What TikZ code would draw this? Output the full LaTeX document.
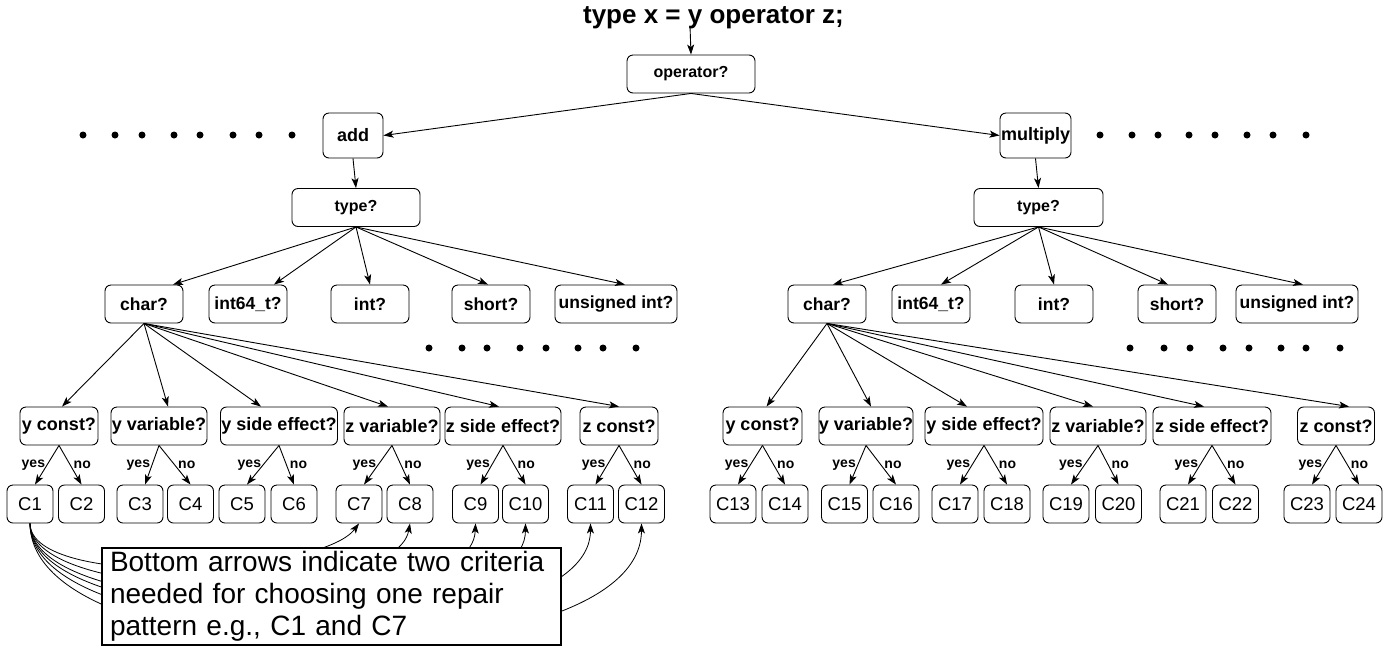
\documentclass[tikz,border=0pt]{standalone}
\usepackage{fontspec}
\setmainfont{Liberation Sans}
\usetikzlibrary{arrows.meta}

\begin{document}
\begin{tikzpicture}[x=1pt,y=-1pt,
        box/.style={draw, rounded corners=6pt, line width=0.9pt, inner sep=0pt, align=center},
        topbox/.style={box, minimum height=38, font=\fontsize{16}{18}\selectfont\bfseries},
        opbox/.style={box, minimum height=45, font=\fontsize{18}{20}\selectfont\bfseries},
        tybox/.style={box, minimum height=38, font=\fontsize{17.5}{20}\selectfont\bfseries},
        qbox/.style={box, minimum height=38, font=\fontsize{18}{20}\selectfont\bfseries},
        cbox/.style={box, minimum width=46, minimum height=38, font=\fontsize{18.5}{20}\selectfont},
        arr/.style={-{Stealth[length=10pt,width=7pt,inset=2.5pt]}, line width=0.9pt},
        yes/.style={pos=0.5, left, inner sep=1.5pt, font=\fontsize{14}{16}\selectfont\bfseries},
        no/.style={pos=0.5, right, inner sep=3pt, font=\fontsize{14}{16}\selectfont\bfseries},
        note/.style={draw, line width=2.5pt, fill=white, inner xsep=8pt, inner ysep=0pt, align=left,
                     minimum width=459, minimum height=97, text width=443,
                     font=\fontsize{28}{32}\selectfont}]
        \useasboundingbox (0,0) rectangle (1388,649);

        % top
        \node[font=\fontsize{26}{28}\selectfont\bfseries] (title) at (713.5,18) {type x = y operator z;};
        \coordinate (start) at (690,26);
        \node[topbox, minimum width=128] (op) at (691,74) {operator?};
        \node[opbox, minimum width=60] (add) at (353,135.5) {add};
        \node[opbox, minimum width=71] (mul) at (1035.5,135.5) {multiply};
        \draw[arr] (start) -- (op.north);
        \draw[arr] (op.south) -- (add.east);
        \draw[arr] (op.south) -- (mul.west);

        % dots
        \fill (83,135) circle (3.5pt) (115,135) circle (3.5pt) (142,135) circle (3.5pt) (174,135) circle (3.5pt)
              (200,135) circle (3.5pt) (233,135) circle (3.5pt) (259,135) circle (3.5pt) (292,135) circle (3.5pt);
        \fill (1100,135) circle (3.5pt) (1132,135) circle (3.5pt) (1158,135) circle (3.5pt) (1189,135) circle (3.5pt)
              (1215,135) circle (3.5pt) (1247,135) circle (3.5pt) (1273,135) circle (3.5pt) (1306,135) circle (3.5pt);
        \fill (429,348) circle (3.5pt) (462,348) circle (3.5pt) (487,348) circle (3.5pt) (520,348) circle (3.5pt)
              (546,348) circle (3.5pt) (578,348) circle (3.5pt) (603,348) circle (3.5pt) (636,348) circle (3.5pt);
        \fill (1130,348) circle (3.5pt) (1164,348) circle (3.5pt) (1190,348) circle (3.5pt) (1223,348) circle (3.5pt)
              (1249,348) circle (3.5pt) (1281,348) circle (3.5pt) (1306,348) circle (3.5pt) (1340,348) circle (3.5pt);

        % left: add
        \node[topbox, minimum width=128] (ltype) at (356,207.5) {type?};
        \draw[arr] (add.south) -- (ltype.north);
        \node[tybox, minimum width=78] (lchar) at (144,304) {char?};
        \node[tybox, minimum width=78] (lint64) at (248,304) {int64\_t?};
        \node[tybox, minimum width=78] (lint) at (370,304) {int?};
        \node[tybox, minimum width=78] (lshort) at (491,304) {short?};
        \node[tybox, minimum width=122] (luint) at (616,304) {unsigned int?};
        \draw[arr] (ltype.south) -- ([xshift=29pt]lchar.north);
        \draw[arr] (ltype.south) -- ([xshift=26pt]lint64.north);
        \draw[arr] (ltype.south) -- (lint.north);
        \draw[arr] (ltype.south) -- ([xshift=-3pt]lshort.north);
        \draw[arr] (ltype.south) -- ([xshift=9pt]luint.north);

        \node[qbox, minimum width=78] (lyc) at (59,426) {y const?};
        \node[qbox, minimum width=96] (lyv) at (159,426) {y variable?};
        \node[qbox, minimum width=117] (lys) at (279,426) {y side effect?};
        \node[qbox, minimum width=96] (lzv) at (392,426) {z variable?};
        \node[qbox, minimum width=116] (lzs) at (503,426) {z side effect?};
        \node[qbox, minimum width=78] (lzc) at (619,426) {z const?};
        \draw[arr] (lchar.south) -- ([xshift=3pt]lyc.north);
        \draw[arr] (lchar.south) -- ([xshift=9pt]lyv.north);
        \draw[arr] (lchar.south) -- ([xshift=-18pt]lys.north);
        \draw[arr] (lchar.south) -- ([xshift=-4pt]lzv.north);
        \draw[arr] (lchar.south) -- ([xshift=-4pt]lzs.north);
        \draw[arr] (lchar.south) -- (lzc.north);

        \node[cbox] (c1) at (30,504) {C1};
        \node[cbox] (c2) at (81.5,504) {C2};
        \node[cbox] (c3) at (140,504) {C3};
        \node[cbox] (c4) at (190.5,504) {C4};
        \node[cbox] (c5) at (242,504) {C5};
        \node[cbox] (c6) at (294,504) {C6};
        \node[cbox] (c7) at (359,504) {C7};
        \node[cbox] (c8) at (410,504) {C8};
        \node[cbox] (c9) at (475.5,504) {C9};
        \node[cbox] (c10) at (525.5,504) {C10};
        \node[cbox] (c11) at (590.5,504) {C11};
        \node[cbox] (c12) at (641.5,504) {C12};
        \draw[arr] (lyc.south) -- node[yes] {yes} ([xshift=5pt]c1.north);
        \draw[arr] (lyc.south) -- node[no] {no} (c2.north);
        \draw[arr] (lyv.south) -- node[yes] {yes} ([xshift=5pt]c3.north);
        \draw[arr] (lyv.south) -- node[no] {no} (c4.north);
        \draw[arr] (lys.south) -- node[yes] {yes} ([xshift=5pt]c5.north);
        \draw[arr] (lys.south) -- node[no] {no} (c6.north);
        \draw[arr] (lzv.south) -- node[yes] {yes} ([xshift=5pt]c7.north);
        \draw[arr] (lzv.south) -- node[no] {no} (c8.north);
        \draw[arr] (lzs.south) -- node[yes] {yes} ([xshift=5pt]c9.north);
        \draw[arr] (lzs.south) -- node[no] {no} (c10.north);
        \draw[arr] (lzc.south) -- node[yes] {yes} ([xshift=5pt]c11.north);
        \draw[arr] (lzc.south) -- node[no] {no} (c12.north);

        % right: multiply
        \node[topbox, minimum width=129] (rtype) at (1038.5,207.5) {type?};
        \draw[arr] (mul.south) -- (rtype.north);
        \node[tybox, minimum width=78] (rchar) at (827,304) {char?};
        \node[tybox, minimum width=78] (rint64) at (931,304) {int64\_t?};
        \node[tybox, minimum width=78] (rint) at (1054,304) {int?};
        \node[tybox, minimum width=78] (rshort) at (1177,304) {short?};
        \node[tybox, minimum width=122] (ruint) at (1297,304) {unsigned int?};
        \draw[arr] (rtype.south) -- ([xshift=6pt]rchar.north);
        \draw[arr] (rtype.south) -- ([xshift=10pt]rint64.north);
        \draw[arr] (rtype.south) -- (rint.north);
        \draw[arr] (rtype.south) -- ([xshift=-9pt]rshort.north);
        \draw[arr] (rtype.south) -- ([xshift=6pt]ruint.north);

        \node[qbox, minimum width=79] (ryc) at (762.5,426) {y const?};
        \node[qbox, minimum width=91] (ryv) at (866,426) {y variable?};
        \node[qbox, minimum width=118] (rys) at (984,426) {y side effect?};
        \node[qbox, minimum width=96] (rzv) at (1098,426) {z variable?};
        \node[qbox, minimum width=118] (rzs) at (1212,426) {z side effect?};
        \node[qbox, minimum width=77] (rzc) at (1336,426) {z const?};
        \draw[arr] (rchar.south) -- ([xshift=4pt]ryc.north);
        \draw[arr] (rchar.south) -- ([xshift=5pt]ryv.north);
        \draw[arr] (rchar.south) -- ([xshift=-17pt]rys.north);
        \draw[arr] (rchar.south) -- ([xshift=-5pt]rzv.north);
        \draw[arr] (rchar.south) -- ([xshift=-8pt]rzs.north);
        \draw[arr] (rchar.south) -- ([xshift=13pt]rzc.north);

        \node[cbox] (c13) at (733,504) {C13};
        \node[cbox] (c14) at (785,504) {C14};
        \node[cbox] (c15) at (844.5,504) {C15};
        \node[cbox] (c16) at (896,504) {C16};
        \node[cbox] (c17) at (955,504) {C17};
        \node[cbox] (c18) at (1007,504) {C18};
        \node[cbox] (c19) at (1066,504) {C19};
        \node[cbox] (c20) at (1118.5,504) {C20};
        \node[cbox] (c21) at (1183,504) {C21};
        \node[cbox] (c22) at (1235.5,504) {C22};
        \node[cbox] (c23) at (1307,504) {C23};
        \node[cbox] (c24) at (1359,504) {C24};
        \draw[arr] (ryc.south) -- node[yes] {yes} ([xshift=5pt]c13.north);
        \draw[arr] (ryc.south) -- node[no] {no} (c14.north);
        \draw[arr] (ryv.south) -- node[yes] {yes} ([xshift=5pt]c15.north);
        \draw[arr] (ryv.south) -- node[no] {no} (c16.north);
        \draw[arr] (rys.south) -- node[yes] {yes} ([xshift=5pt]c17.north);
        \draw[arr] (rys.south) -- node[no] {no} (c18.north);
        \draw[arr] (rzv.south) -- node[yes] {yes} ([xshift=5pt]c19.north);
        \draw[arr] (rzv.south) -- node[no] {no} (c20.north);
        \draw[arr] (rzs.south) -- node[yes] {yes} ([xshift=5pt]c21.north);
        \draw[arr] (rzs.south) -- node[no] {no} (c22.north);
        \draw[arr] (rzc.south) -- node[yes] {yes} ([xshift=5pt]c23.north);
        \draw[arr] (rzc.south) -- node[no] {no} (c24.north);

        % bottom arrows from C1
        \draw[arr, line width=0.8pt] (c1.south) .. controls (31,590) and (320,575) .. (c7.south);
        \draw[arr, line width=0.8pt] (c1.south) .. controls (31,605) and (395,605) .. (c8.south);
        \draw[arr, line width=0.8pt] (c1.south) .. controls (31,625) and (472,625) .. (c9.south);
        \draw[arr, line width=0.8pt] (c1.south) .. controls (31,640) and (525,640) .. (c10.south);
        \draw[arr, line width=0.8pt] (c1.south) .. controls (31,660) and (590,660) .. (c11.south);
        \draw[arr, line width=0.8pt] (c1.south) .. controls (31,684) and (641,684) .. (c12.south);
        \node[note] (txt) at (331.5,596.5) {Bottom arrows indicate two criteria\\needed for choosing one repair\\pattern e.g., C1 and C7};
        \end{tikzpicture}
\end{document}
